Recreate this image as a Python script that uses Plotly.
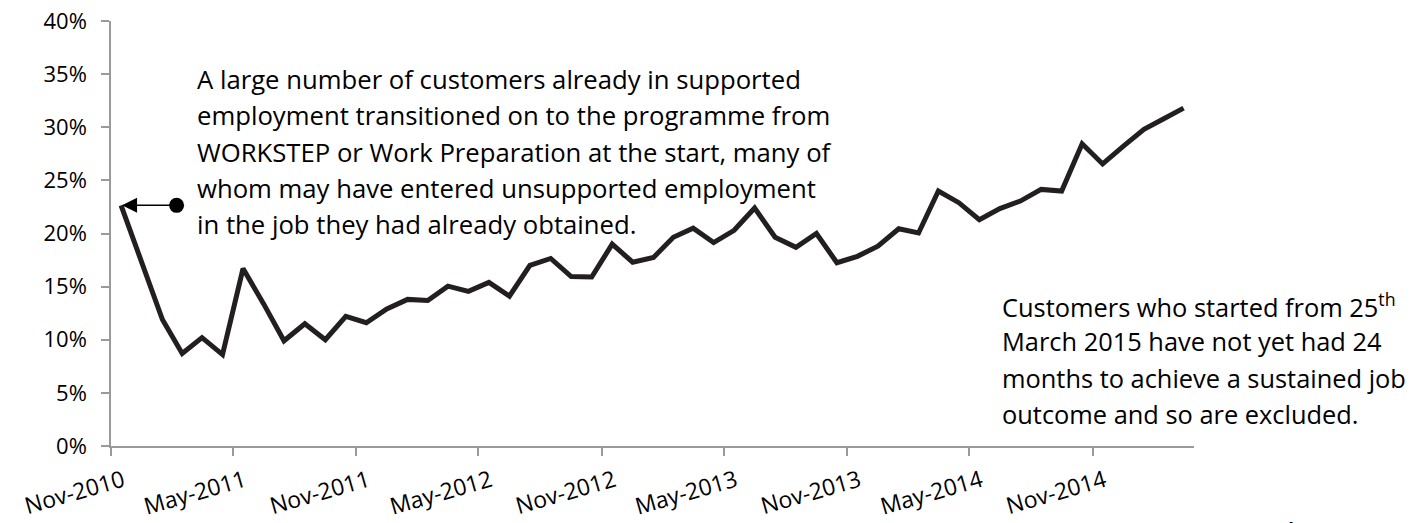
import plotly.graph_objects as go
import pandas as pd

# ---- data ----
months = pd.date_range("2010-11-01", "2015-03-01", freq="MS")
rate = [22.65, 17.2, 11.9, 8.7, 10.2, 8.6, 16.7, 13.4, 9.9, 11.5,
        10.0, 12.2, 11.6, 12.9, 13.8, 13.7, 15.05, 14.55, 15.4, 14.1,
        17.0, 17.65, 15.95, 15.9, 19.0, 17.3, 17.75, 19.65, 20.5, 19.15,
        20.3, 22.4, 19.65, 18.7, 20.0, 17.25, 17.85, 18.8, 20.45, 20.05,
        24.0, 22.9, 21.3, 22.35, 23.05, 24.15, 24.0, 28.45, 26.55, 28.2,
        29.8, 30.8, 31.8]
y_ticks = [0, 5, 10, 15, 20, 25, 30, 35, 40]
y_tick_labels = ["0%", "5%", "10%", "15%", "20%", "25%", "30%", "35%", "40%"]

note1_lines = [
    "A large number of customers already in supported",
    "employment transitioned on to the programme from",
    "WORKSTEP or Work Preparation at the start, many of",
    "whom may have entered unsupported employment",
    "in the job they had already obtained.",
]
note2_lines = [
    "Customers who started from 25<sup>th</sup>",
    "March 2015 have not yet had 24",
    "months to achieve a sustained job",
    "outcome and so are excluded.",
]
page_number = "4"

# ---- layout geometry (pixels) ----
W, H = 1415, 523
L, R, T, B = 111, 1194, 21, 446

def px(x):
    return (x - L) / (R - L)

def py(y):
    return (B - y) / (B - T)

FONT = "Open Sans"
AXIS_GREY = "#9a9a9a"

fig = go.Figure()
fig.add_trace(go.Scatter(
    x=months, y=rate, mode="lines",
    xperiod="M1", xperiodalignment="middle",
    line=dict(color="#231f20", width=5),
    hoverinfo="skip", showlegend=False,
))

first_x = months[0] + (months[1] - months[0]) / 2

annotations = []
# arrow pointing at the first value
annotations.append(dict(
    x=first_x, y=rate[0], xref="x", yref="y",
    text="", showarrow=True, ax=55, ay=0,
    arrowhead=2, arrowsize=2.0, arrowwidth=1.5, arrowcolor="#000",
    standoff=1,
))

for i, line in enumerate(note1_lines):
    annotations.append(dict(
        x=px(195), y=py(80 + i * 36.0), xref="paper", yref="paper",
        text=line, showarrow=False, xanchor="left", yanchor="middle",
        font=dict(family=FONT, size=25.7, color="#000"),
    ))
for i, line in enumerate(note2_lines):
    annotations.append(dict(
        x=px(1000), y=py(305 + i * 36.3), xref="paper", yref="paper",
        text=line, showarrow=False, xanchor="left", yanchor="middle",
        font=dict(family=FONT, size=25.4, color="#000"),
    ))
annotations.append(dict(
    x=px(1278), y=py(510), xref="paper", yref="paper",
    text=page_number, showarrow=False, xanchor="left", yanchor="top",
    font=dict(family=FONT, size=28, color="#000"),
))

fig.update_layout(
    width=W, height=H, autosize=False,
    margin=dict(l=L, r=W - R, t=T, b=H - B, pad=0, autoexpand=False),
    paper_bgcolor="white", plot_bgcolor="white",
    font=dict(family=FONT, color="#000"),
    annotations=annotations,
    shapes=[dict(
        type="circle", xref="x", yref="y",
        xsizemode="pixel", ysizemode="pixel",
        xanchor=first_x, yanchor=rate[0],
        x0=48, x1=63, y0=-7.5, y1=7.5,
        fillcolor="#000", line=dict(color="#000", width=0),
    )],
)
fig.update_xaxes(
    type="date", automargin=False,
    range=[months[0], months[-1] + pd.offsets.MonthBegin(1)],
    tick0=months[0], dtick="M6", tickformat="%b-%Y",
    tickangle=-16, ticks="outside", ticklen=8, tickwidth=1.5,
    tickcolor=AXIS_GREY, showline=True, linecolor=AXIS_GREY, linewidth=1.5,
    showgrid=False, zeroline=False,
    tickfont=dict(family=FONT, size=23, color="#000"),
    ticklabelstandoff=3, ticklabelshift=12,
)
fig.update_yaxes(
    automargin=False,
    range=[0, 40], tickmode="array", tickvals=y_ticks, ticktext=y_tick_labels,
    ticks="outside", ticklen=8, tickwidth=1.5, tickcolor=AXIS_GREY,
    showline=True, linecolor=AXIS_GREY, linewidth=1.5,
    showgrid=False, zeroline=False,
    tickfont=dict(family=FONT, size=22, color="#000"),
    ticklabelstandoff=10,
)

fig.write_html("out.html")
